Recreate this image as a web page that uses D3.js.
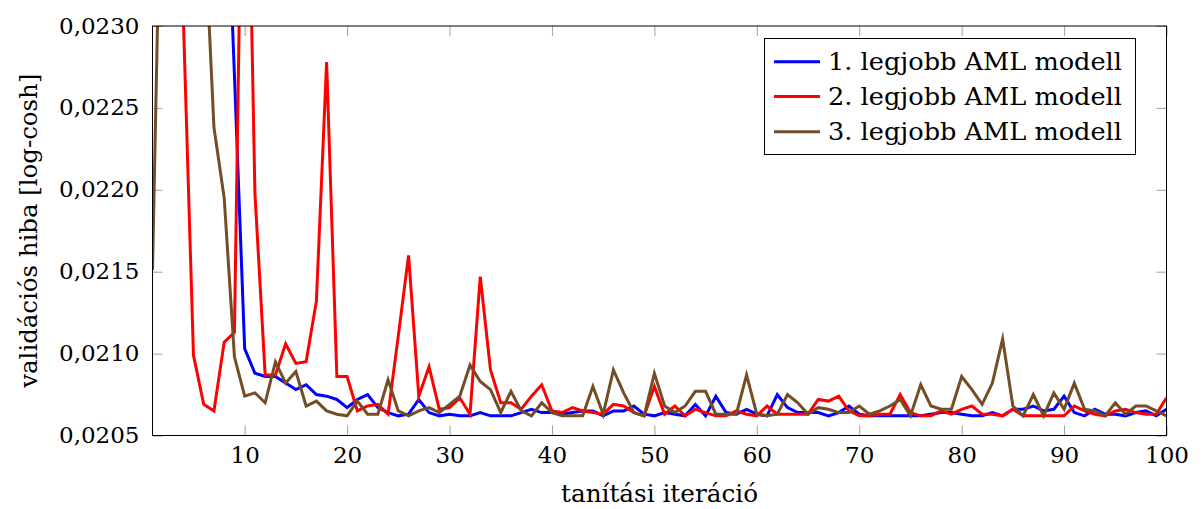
<!DOCTYPE html>
<html>
<head>
<meta charset="utf-8">
<script src="https://cdn.jsdelivr.net/npm/d3@7"></script>
<style>
  html, body { margin: 0; padding: 0; background: #fff; }
  svg { display: block; }
  text { font-family: "DejaVu Serif", "Liberation Serif", serif; fill: #000; }
</style>
</head>
<body>
<svg id="chart" width="1204" height="509"></svg>
<script>
// ---------------- data ----------------
const iterations = d3.range(1, 101);

const seriesNames = ["1. legjobb AML modell", "2. legjobb AML modell", "3. legjobb AML modell"];

const model1 = [
  0.0300, 0.0290, 0.0280, 0.0270, 0.0262, 0.0255, 0.0249, 0.0243, 0.0227, 0.02103,
  0.02088, 0.02086, 0.02086, 0.02082, 0.02078, 0.02081, 0.02075, 0.02074, 0.02072, 0.02067,
  0.02072, 0.02075, 0.02067, 0.02064, 0.02062, 0.02063, 0.02072, 0.02064, 0.02062, 0.02063,
  0.02062, 0.02062, 0.02064, 0.02062, 0.02062, 0.02062, 0.02064, 0.02066, 0.02064, 0.02064,
  0.02063, 0.02064, 0.02065, 0.02065, 0.02062, 0.02065, 0.02065, 0.02068, 0.02063, 0.02062,
  0.02064, 0.02063, 0.02062, 0.02069, 0.02062, 0.02074, 0.02064, 0.02063, 0.02066, 0.02063,
  0.02062, 0.02075, 0.02067, 0.02064, 0.02064, 0.02064, 0.02062, 0.02064, 0.02068, 0.02063,
  0.02062, 0.02062, 0.02062, 0.02062, 0.02062, 0.02062, 0.02063, 0.02064, 0.02064, 0.02063,
  0.02062, 0.02062, 0.02064, 0.02062, 0.02066, 0.02066, 0.02068, 0.02065, 0.02066, 0.02074,
  0.02064, 0.02062, 0.02066, 0.02063, 0.02063, 0.02062, 0.02064, 0.02065, 0.02062, 0.02066
];

const model2 = [
  0.0260, 0.0255, 0.0245, 0.02307, 0.02099, 0.02069, 0.02065, 0.02107, 0.02113, 0.02522,
  0.02198, 0.02087, 0.02087, 0.02106, 0.02094, 0.02095, 0.02132, 0.02278, 0.02086, 0.02086,
  0.02065, 0.02068, 0.02069, 0.02063, 0.02111, 0.02160, 0.02074, 0.02092, 0.02066, 0.02067,
  0.02073, 0.02063, 0.02147, 0.02090, 0.02070, 0.02070, 0.02066, 0.02074, 0.02081, 0.02065,
  0.02064, 0.02067, 0.02065, 0.02064, 0.02063, 0.02069, 0.02068, 0.02064, 0.02062, 0.02080,
  0.02063, 0.02068, 0.02062, 0.02066, 0.02064, 0.02062, 0.02062, 0.02065, 0.02063, 0.02062,
  0.02068, 0.02063, 0.02063, 0.02063, 0.02063, 0.02072, 0.02071, 0.02074, 0.02065, 0.02062,
  0.02062, 0.02063, 0.02063, 0.02075, 0.02064, 0.02062, 0.02062, 0.02065, 0.02063, 0.02066,
  0.02068, 0.02063, 0.02063, 0.02062, 0.02066, 0.02062, 0.02062, 0.02062, 0.02062, 0.02062,
  0.02068, 0.02065, 0.02063, 0.02062, 0.02065, 0.02066, 0.02064, 0.02063, 0.02063, 0.02073
];

const model3 = [
  0.02151, 0.02459, 0.0255, 0.0252, 0.0245, 0.02372, 0.02238, 0.02195, 0.02098, 0.02074,
  0.02076, 0.02070, 0.02095, 0.02082, 0.02089, 0.02068, 0.02071, 0.02065, 0.02063, 0.02062,
  0.02071, 0.02063, 0.02063, 0.02084, 0.02065, 0.02062, 0.02065, 0.02067, 0.02064, 0.02069,
  0.02074, 0.02093, 0.02083, 0.02078, 0.02064, 0.02077, 0.02065, 0.02062, 0.02070, 0.02064,
  0.02062, 0.02062, 0.02062, 0.02080, 0.02063, 0.02090, 0.02076, 0.02064, 0.02062, 0.02088,
  0.02068, 0.02064, 0.02068, 0.02077, 0.02077, 0.02063, 0.02063, 0.02063, 0.02087, 0.02063,
  0.02062, 0.02063, 0.02075, 0.02070, 0.02063, 0.02067, 0.02066, 0.02064, 0.02064, 0.02068,
  0.02063, 0.02065, 0.02068, 0.02072, 0.02062, 0.02081, 0.02068, 0.02066, 0.02066, 0.02086,
  0.02078, 0.02069, 0.02082, 0.02109, 0.02068, 0.02062, 0.02075, 0.02062, 0.02076, 0.02066,
  0.02082, 0.02066, 0.02065, 0.02062, 0.02070, 0.02063, 0.02068, 0.02068, 0.02065, 0.02062
];

const xTickValues = [10, 20, 30, 40, 50, 60, 70, 80, 90, 100];
const yTickValues = [0.0205, 0.0210, 0.0215, 0.0220, 0.0225, 0.0230];
const xLabel = "tanítási iteráció";
const yLabel = "validációs hiba [log-cosh]";
const colors = ["#0000ff", "#ff0000", "#734d26"];

// ---------------- layout ----------------
const FONT = '"DejaVu Serif", "Liberation Serif", serif';
const svg = d3.select("#chart");
const L = 152.5, R = 1166.5, T = 26, B = 435.5;

const x = d3.scaleLinear().domain([1, 100]).range([L, R]);
const y = d3.scaleLinear().domain([0.0205, 0.0230]).range([B, T]);

const huFormat = d3.formatLocale({ decimal: ",", thousands: " ", grouping: [3], currency: ["", ""] }).format(".4f");

// clip
svg.append("defs").append("clipPath").attr("id", "plotclip")
  .append("rect").attr("x", L).attr("y", T).attr("width", R - L).attr("height", B - T);

// axes (ticks inward, mirrored)
const tickLen = 10;
function styleAxis(g) {
  g.attr("font-family", null).attr("font-size", null);
  g.select(".domain").remove();
  g.selectAll(".tick line").attr("stroke", "#a0a0a0").attr("stroke-width", 1);
}

const gBottom = svg.append("g").attr("transform", `translate(0,${B})`)
  .call(d3.axisBottom(x).tickValues(xTickValues).tickSize(-tickLen).tickSizeOuter(0).tickFormat(d3.format("d")));
styleAxis(gBottom);
gBottom.selectAll(".tick text").attr("y", 27.5).attr("dy", 0)
  .style("font-size", "23px").style("font-family", FONT).attr("fill", "#000");

const gTop = svg.append("g").attr("transform", `translate(0,${T})`)
  .call(d3.axisTop(x).tickValues(xTickValues).tickSize(-tickLen).tickSizeOuter(0).tickFormat(""));
styleAxis(gTop);

const gLeft = svg.append("g").attr("transform", `translate(${L},0)`)
  .call(d3.axisLeft(y).tickValues(yTickValues).tickSize(-tickLen).tickSizeOuter(0).tickFormat(huFormat));
styleAxis(gLeft);
gLeft.selectAll(".tick text").attr("x", -13).attr("dy", 7)
  .style("font-size", "23px").style("font-family", FONT).attr("fill", "#000");

const gRight = svg.append("g").attr("transform", `translate(${R},0)`)
  .call(d3.axisRight(y).tickValues(yTickValues).tickSize(-tickLen).tickSizeOuter(0).tickFormat(""));
styleAxis(gRight);

// lines
const line = d3.line().x((d, i) => x(iterations[i])).y(d => y(d));
const allSeries = [model1, model2, model3];
const gLines = svg.append("g").attr("clip-path", "url(#plotclip)");
allSeries.forEach((s, k) => {
  gLines.append("path").datum(s)
    .attr("d", line)
    .attr("fill", "none")
    .attr("stroke", colors[k])
    .attr("stroke-width", 3)
    .attr("stroke-linejoin", "miter")
    .attr("stroke-miterlimit", 10);
});

// frame
svg.append("rect").attr("x", L).attr("y", T).attr("width", R - L).attr("height", B - T)
  .attr("fill", "none").attr("stroke", "#000").attr("stroke-width", 1);

// axis labels
svg.append("text").attr("x", (L + R) / 2).attr("y", 502)
  .attr("text-anchor", "middle").style("font-size", "24px").style("font-family", FONT)
  .attr("textLength", 197).attr("lengthAdjust", "spacingAndGlyphs")
  .text(xLabel);

svg.append("text").attr("transform", `translate(37,${(T + B) / 2}) rotate(-90)`)
  .attr("text-anchor", "middle").style("font-size", "24px").style("font-family", FONT)
  .attr("textLength", 314).attr("lengthAdjust", "spacingAndGlyphs")
  .text(yLabel);

// legend
const lg = svg.append("g");
lg.append("rect").attr("x", 764.5).attr("y", 38.5).attr("width", 371).attr("height", 116)
  .attr("fill", "#fff").attr("stroke", "#000").attr("stroke-width", 1);
const rowY = [61.7, 96.5, 131.7];
seriesNames.forEach((name, k) => {
  lg.append("line").attr("x1", 774).attr("x2", 820).attr("y1", rowY[k]).attr("y2", rowY[k])
    .attr("stroke", colors[k]).attr("stroke-width", 3);
  lg.append("text").attr("x", 828).attr("y", rowY[k] + 8.5)
    .style("font-size", "25px").style("font-family", FONT)
    .attr("textLength", 294).attr("lengthAdjust", "spacingAndGlyphs")
    .text(name);
});
</script>
</body>
</html>
